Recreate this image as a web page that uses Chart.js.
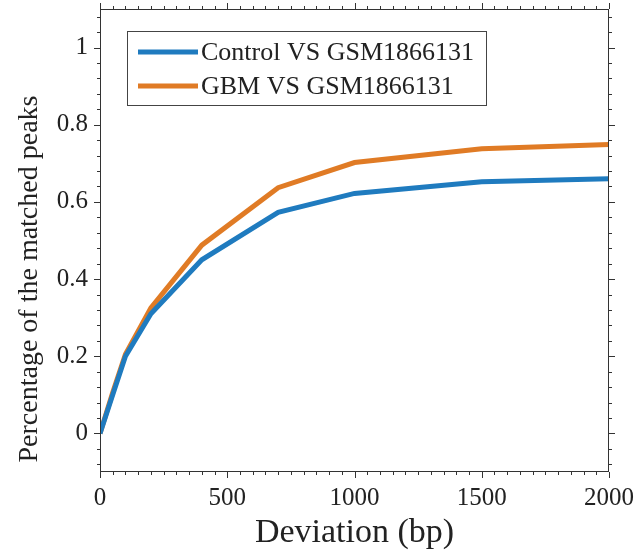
<!DOCTYPE html>
<html><head><meta charset="utf-8">
<script src="https://cdn.jsdelivr.net/npm/chart.js@4/dist/chart.umd.min.js"></script>
<style>html,body{margin:0;padding:0;background:#fff}#wrap{width:637px;height:555px}</style>
</head><body><div id="wrap"><canvas id="c" width="637" height="555"></canvas></div>
<script>
const deviation = [0, 50, 100, 200, 400, 700, 1000, 1500, 2000];
const controlVals = [0, 0.10, 0.20, 0.31, 0.45, 0.573, 0.622, 0.652, 0.66];
const gbmVals = [0, 0.106, 0.205, 0.325, 0.488, 0.637, 0.702, 0.738, 0.749];
const seriesNames = ['Control VS GSM1866131', 'GBM VS GSM1866131'];
const xTicks = [0, 500, 1000, 1500, 2000];
const yTicks = [0, 0.2, 0.4, 0.6, 0.8, 1];
const xTitle = 'Deviation (bp)';
const yTitle = 'Percentage of the matched peaks';
const xMinor = 50, yMinor = 0.04;

const frame = {
  id: 'frame',
  afterDraw(chart) {
    const {ctx, chartArea: a, scales: {x, y}} = chart;
    ctx.save();
    ctx.strokeStyle = '#333'; ctx.lineWidth = 1;
    ctx.strokeRect(a.left + 0.5, a.top + 0.5, a.right - a.left - 1, a.bottom - a.top - 1);
    ctx.beginPath();
    for (let v = x.min; v <= x.max + 1e-9; v += xMinor) {
      const px = Math.round(x.getPixelForValue(v)) + 0.5;
      const major = Math.abs(v % 500) < 1e-6;
      const L = major ? 6 : 3;
      ctx.moveTo(px, a.bottom); ctx.lineTo(px, a.bottom + L);
      ctx.moveTo(px, a.top); ctx.lineTo(px, a.top - L);
    }
    for (let i = 0; ; i++) {
      const v = -0.08 + i * yMinor;
      if (v > y.max + 1e-9) break;
      const py = Math.round(y.getPixelForValue(v)) + 0.5;
      const r = Math.round(v * 100);
      const major = r % 20 === 0;
      const L = major ? 6 : 3;
      ctx.moveTo(a.left, py); ctx.lineTo(a.left - L, py);
      ctx.moveTo(a.right, py); ctx.lineTo(a.right + L, py);
    }
    ctx.stroke();
    // axis titles
    ctx.fillStyle = '#222';
    ctx.textAlign = 'center'; ctx.textBaseline = 'alphabetic';
    ctx.font = '34px "Liberation Serif"';
    ctx.fillText(xTitle, (a.left + a.right) / 2, 542);
    ctx.translate(37, 279);
    ctx.rotate(-Math.PI / 2);
    ctx.font = '28px "Liberation Serif"';
    ctx.fillText(yTitle, 0, 0);
    ctx.restore();
  }
};

const legendBox = {
  id: 'legendBox',
  afterDatasetsDraw(chart) {
    const {ctx} = chart;
    const bx = 127, by = 31, bw = 359, bh = 74;
    ctx.save();
    ctx.fillStyle = '#fff'; ctx.fillRect(bx, by, bw, bh);
    ctx.strokeStyle = '#444'; ctx.lineWidth = 1;
    ctx.strokeRect(bx + 0.5, by + 0.5, bw, bh);
    ctx.font = '26px "Liberation Serif"';
    ctx.textBaseline = 'middle';
    chart.data.datasets.forEach((ds, i) => {
      const yy = by + 21 + i * 34;
      ctx.strokeStyle = ds.borderColor; ctx.lineWidth = 5;
      ctx.beginPath(); ctx.moveTo(138, yy); ctx.lineTo(198, yy); ctx.stroke();
      ctx.fillStyle = '#222';
      ctx.fillText(ds.label, 201, yy + 1);
    });
    ctx.restore();
  }
};

new Chart(document.getElementById('c'), {
  type: 'line',
  data: {
    datasets: [
      {label: seriesNames[0], data: deviation.map((d, i) => ({x: d, y: controlVals[i]})), borderColor: '#1f7bbf', borderWidth: 5, pointRadius: 0, tension: 0, fill: false},
      {label: seriesNames[1], data: deviation.map((d, i) => ({x: d, y: gbmVals[i]})), borderColor: '#e07b25', borderWidth: 5, pointRadius: 0, tension: 0, fill: false}
    ]
  },
  options: {
    responsive: false, animation: false, devicePixelRatio: 1,
    layout: {padding: {left: 0, top: 9, right: 28, bottom: 0}},
    plugins: {legend: {display: false}, tooltip: {enabled: false}},
    scales: {
      x: {
        type: 'linear', min: 0, max: 2000,
        afterBuildTicks: s => { s.ticks = xTicks.map(v => ({value: v})); },
        afterFit: s => { s.height = 83; s.paddingLeft = 0; s.paddingRight = 0; },
        grid: {display: false, drawTicks: false},
        border: {display: false},
        ticks: {font: {family: 'Liberation Serif', size: 25}, color: '#222', padding: 11, maxRotation: 0, callback: v => String(v)},
        title: {display: false}
      },
      y: {
        type: 'linear', min: -0.1, max: 1.1,
        afterBuildTicks: s => { s.ticks = yTicks.map(v => ({value: v})); },
        afterFit: s => { s.width = 100; s.paddingTop = 0; s.paddingBottom = 0; },
        grid: {display: false, drawTicks: false},
        border: {display: false},
        ticks: {font: {family: 'Liberation Serif', size: 25}, color: '#222', padding: 12, callback: v => String(Math.round(v * 10) / 10)},
        title: {display: false}
      }
    }
  },
  plugins: [frame, legendBox]
});
</script></body></html>
